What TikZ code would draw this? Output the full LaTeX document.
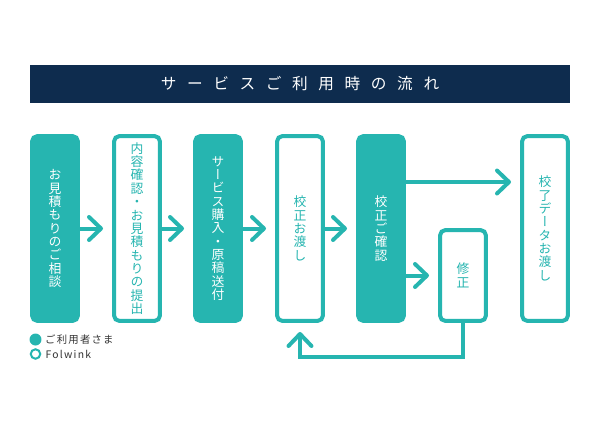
\documentclass[tikz,border=0pt]{standalone}
\usepackage{fontspec}
\usepackage{xcolor}
\usetikzlibrary{positioning,arrows.meta}
\newfontfamily\cjkv[RawFeature=+vert]{Noto Sans CJK JP}
\newfontfamily\cjktitle[LetterSpace=68]{Noto Sans CJK JP}
\newfontfamily\cjkkey[LetterSpace=12]{Noto Sans CJK JP}
\definecolor{flowteal}{HTML}{26B5B0}
\definecolor{flownavy}{HTML}{0E2C4E}
\tikzset{
	userbox/.style={draw=flowteal,fill=flowteal,line width=0.08cm,rounded corners=0.11cm,minimum width=0.92cm,minimum height=3.7cm,inner sep=0pt,text=white,align=center,font=\cjkv\fontsize{7.3}{7.6}\selectfont},
	staffbox/.style={userbox,fill=white,text=flowteal},
	flowarrow/.style={draw=flowteal,line width=0.08cm,-{Straight Barb[length=0.24cm,width=0.46cm,round]},shorten >=0.18cm},
	keytext/.style={text=black!80,inner sep=0pt,anchor=west,font=\cjkkey\fontsize{5.9}{6.5}\selectfont}
}
\begin{document}
\begin{tikzpicture}[x=0.02cm,y=-0.02cm]
	\useasboundingbox (0,0) rectangle (600,424);
	\node[fill=flownavy,minimum width=10.8cm,minimum height=0.76cm,inner sep=0pt,text=white,font=\cjktitle\fontsize{8.9}{10}\selectfont] (title) at (300,84) {サービスご利用時の流れ};

	\node[userbox] (quote) at (55,228.5) {お\\見\\積\\も\\り\\の\\ご\\相\\談};
	\node[staffbox] (offer) at (137,228.5) {内\\容\\確\\認\\・\\お\\見\\積\\も\\り\\の\\提\\出};
	\node[userbox] (order) at (218,228.5) {サ\\ー\\ビ\\ス\\購\\入\\・\\原\\稿\\送\\付};
	\node[staffbox] (proof) at (300,228.5) {校\\正\\お\\渡\\し};
	\node[userbox] (check) at (381,228.5) {校\\正\\ご\\確\\認};
	\node[staffbox,minimum height=1.82cm] (fix) at (463,275.5) {修\\正};
	\node[staffbox] (done) at (545,228.5) {校\\了\\デ\\ー\\タ\\お\\渡\\し};

	\draw[flowarrow] (quote) -- (offer);
	\draw[flowarrow] (offer) -- (order);
	\draw[flowarrow] (order) -- (proof);
	\draw[flowarrow] (proof) -- (check);
	\coordinate (upper) at (0,182);
	\draw[flowarrow] (check.east |- upper) -- (done.west |- upper);
	\draw[flowarrow] (fix.west -| check.east) -- (fix.west);
	\draw[flowarrow] (fix.south) -- ++(0,34) -| (proof.south);

	\node[circle,fill=flowteal,minimum size=0.24cm,inner sep=0pt] (keyuser) at (35.5,339.5) {};
	\node[circle,draw=flowteal,line width=0.04cm,minimum size=0.19cm,inner sep=0pt] (keystaff) at (35.5,354) {};
	\node[keytext,right=0.06cm of keyuser] (keyusertext) {ご利用者さま};
	\node[keytext,right=0.08cm of keystaff] (keystafftext) {Folwink};
\end{tikzpicture}
\end{document}
